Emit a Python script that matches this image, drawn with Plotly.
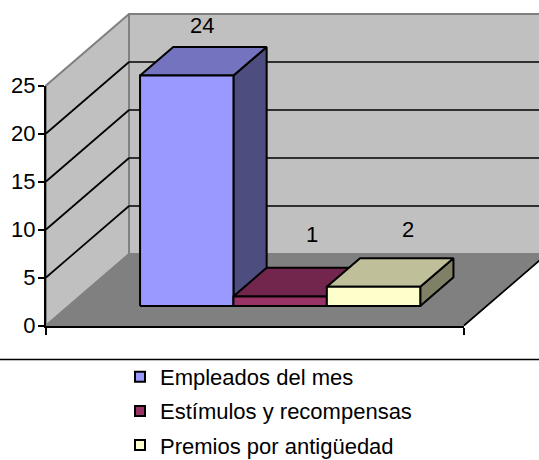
import plotly.graph_objects as go

# Data
series_names = ["Empleados del mes", "Estímulos y recompensas", "Premios por antigüedad"]
series_values = [24, 1, 2]
y_ticks = [0, 5, 10, 15, 20, 25]

# Styles
front_colors = ["#9999FF", "#993366", "#FFFFCC"]
top_colors = ["#7373BF", "#73264D", "#BFBF99"]
side_colors = ["#4D4D80", "#4D1A33", "#808066"]
label_shift = [(-18, 21), (-1, 33), (1, 29)]

W, H = 539, 460
X0, X1, Y0, Y25 = 46, 464, 325.5, 85.5
YMAX = 25
PX_X = X1 - X0                  # pixels per x unit
PX_Y = (Y0 - Y25) / YMAX        # pixels per value unit
DX = 83 / PX_X
DY = 71.5 / PX_Y
BAR_W = 93.4 / PX_X
BAR_START = 0.1708
D0, D1 = 0.273, 0.673
FONT = "Liberation Sans"
FS = 22


def proj(x, v, d):
    return x + d * DX, v + d * DY


def poly(pts, fill, line="black", lw=2):
    xs, ys = zip(*[proj(*p) for p in pts + [pts[0]]])
    return go.Scatter(x=xs, y=ys, mode="lines", fill="toself", fillcolor=fill,
                      line=dict(color=line, width=lw),
                      hoverinfo="skip", showlegend=False)


def seg(a, b, color="black", lw=1.7):
    xs, ys = zip(proj(*a), proj(*b))
    return go.Scatter(x=xs, y=ys, mode="lines", line=dict(color=color, width=lw),
                      hoverinfo="skip", showlegend=False)


fig = go.Figure()
# walls and floor
fig.add_trace(poly([(0, 0, 1), (1, 0, 1), (1, YMAX, 1), (0, YMAX, 1)], "#C0C0C0", "#808080", 2))
fig.add_trace(poly([(0, 0, 0), (0, 0, 1), (0, YMAX, 1), (0, YMAX, 0)], "#C0C0C0", "#808080", 2))
fig.add_trace(poly([(0, 0, 0), (1, 0, 0), (1, 0, 1), (0, 0, 1)], "#808080", "#808080", 1))
fig.add_trace(seg((1, 0, 0), (1, 0, 1)))
# gridlines
for t in y_ticks[1:-1]:
    fig.add_trace(seg((0, t, 0), (0, t, 1)))
    fig.add_trace(seg((0, t, 1), (1, t, 1)))

# bars
annotations = []
for i, v in enumerate(series_values):
    a = BAR_START + i * BAR_W
    b = a + BAR_W
    fig.add_trace(poly([(b, 0, D0), (b, 0, D1), (b, v, D1), (b, v, D0)], side_colors[i]))
    fig.add_trace(poly([(a, v, D0), (b, v, D0), (b, v, D1), (a, v, D1)], top_colors[i]))
    fig.add_trace(poly([(a, 0, D0), (b, 0, D0), (b, v, D0), (a, v, D0)], front_colors[i]))
    lx, ly = proj((a + b) / 2, v, D1)
    annotations.append(dict(x=lx, y=ly, xref="x", yref="y", text=str(v), showarrow=False,
                            xshift=label_shift[i][0], yshift=label_shift[i][1],
                            font=dict(family=FONT, size=FS, color="black")))

# legend
for i, name in enumerate(series_names):
    fig.add_trace(go.Scatter(x=[None], y=[None], mode="markers", name=name, legendgroup=name,
                             marker=dict(symbol="square", size=10, color=front_colors[i],
                                         line=dict(color="black", width=2))))

# visible front axes sit on their own subplot, aligned with the full-page one
fig.add_trace(go.Scatter(x=[None], y=[None], xaxis="x2", yaxis="y2", showlegend=False, hoverinfo="skip"))

fig.update_layout(
    width=W, height=H, margin=dict(l=0, r=0, t=0, b=0, autoexpand=False), autosize=False,
    paper_bgcolor="white", plot_bgcolor="rgba(0,0,0,0)",
    font=dict(family=FONT, size=FS, color="black"),
    annotations=annotations,
    shapes=[dict(type="line", xref="paper", yref="paper", x0=0, x1=1,
                 y0=1 - 359.5 / H, y1=1 - 359.5 / H, line=dict(color="black", width=1.7))],
    xaxis=dict(domain=[0, 1], range=[-X0 / PX_X, (W - X0) / PX_X], visible=False),
    yaxis=dict(domain=[0, 1], range=[(Y0 - H) / PX_Y, Y0 / PX_Y], visible=False),
    xaxis2=dict(domain=[X0 / W, X1 / W], range=[0, 1], anchor="y2", tickvals=[0, 1], ticktext=["", ""],
                ticks="outside", ticklen=7, tickwidth=1.7, tickcolor="black",
                showgrid=False, zeroline=False, showline=True, linecolor="black", linewidth=2),
    yaxis2=dict(domain=[1 - Y0 / H, 1 - Y25 / H], range=[0, YMAX], anchor="x2", tickvals=y_ticks,
                ticks="outside", ticklen=6, tickwidth=1.7, tickcolor="black", ticklabelstandoff=-2,
                tickfont=dict(family=FONT, size=FS, color="black"),
                showgrid=False, zeroline=False, showline=True, linecolor="black", linewidth=2),
    legend=dict(x=120 / W, y=1 - 356 / H, xanchor="left", yanchor="top",
                bgcolor="rgba(0,0,0,0)", tracegroupgap=2.5, itemwidth=30,
                font=dict(family=FONT, size=FS, color="black")),
    showlegend=True,
)

fig.write_html("out.html", config={"displayModeBar": False},
               post_script="document.body.style.margin='0';document.body.style.overflow='hidden';")
